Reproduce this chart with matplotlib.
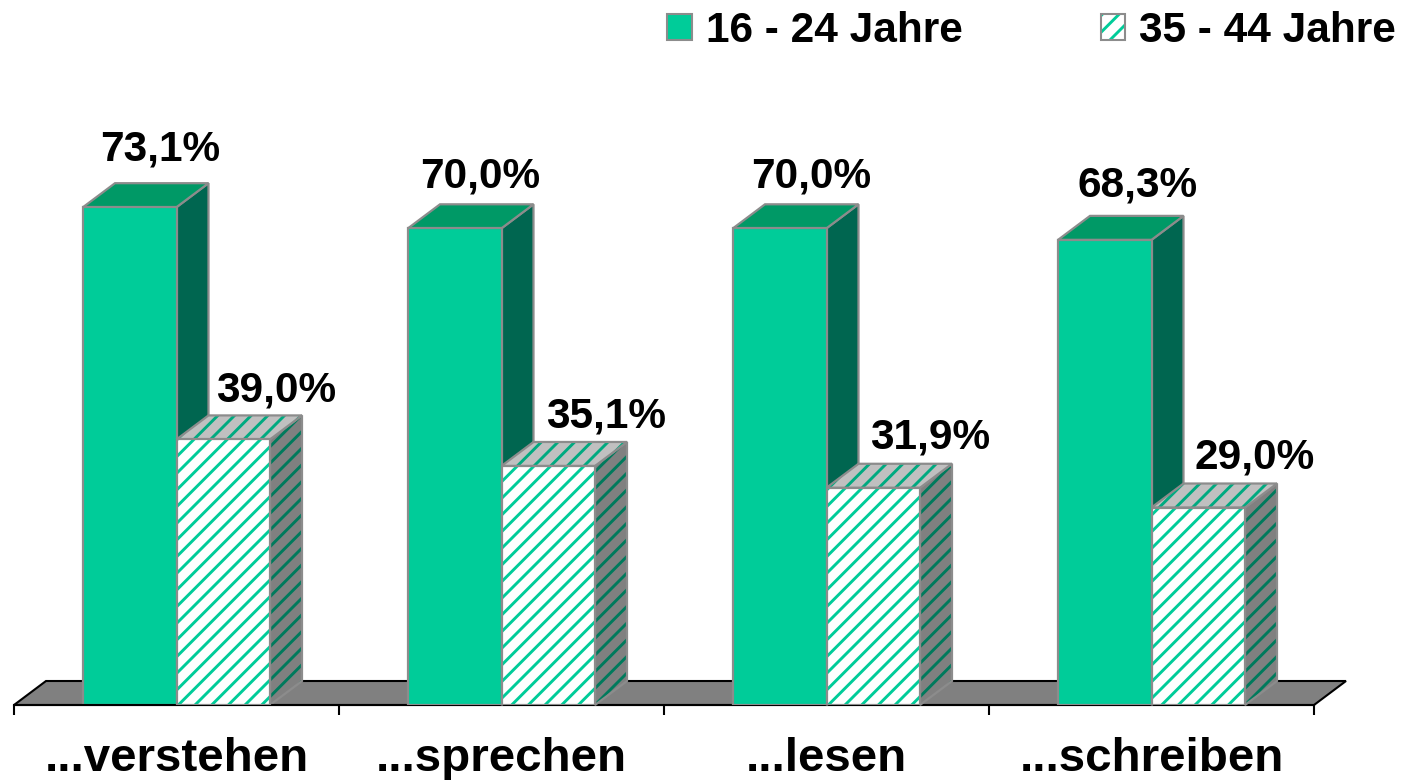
import numpy as np
import matplotlib
matplotlib.use('Agg')
import matplotlib.pyplot as plt
from matplotlib.patches import Patch
from matplotlib.legend_handler import HandlerTuple

categories = ['...verstehen', '...sprechen', '...lesen', '...schreiben']
young = [73.1, 70.0, 70.0, 68.3]
older = [39.0, 35.1, 31.9, 29.0]
young_name = '16 - 24 Jahre'
older_name = '35 - 44 Jahre'

W, H = 1405, 780
plt.rcParams['font.family'] = ['Liberation Sans', 'DejaVu Sans']
plt.rcParams['font.weight'] = 'bold'
plt.rcParams['hatch.linewidth'] = 2.1

GREEN = '#00CC99'
EDGE = '#8C8C8C'

fig = plt.figure(figsize=(W / 100, H / 100), dpi=100)
# axes box in pixels: x 14..1314, baseline at y=705 from the top
ax = fig.add_axes([14 / W, 75 / H, 1300 / W, 680 / H])
ax.set_xlim(0, 4)
ax.set_ylim(0, 680 / 6.81)
ax.patch.set_visible(False)
for s in ['top', 'left', 'right']:
    ax.spines[s].set_visible(False)
ax.spines['bottom'].set_linewidth(1.5)

# 3d depth of the bars, in data units
dx = 32 / 325
dy = 24 / 6.81
bw = 93.5 / 325
# floor
ax.fill([0, dx, 4 + dx, 4], [0, dy, dy, 0], facecolor='#808080', edgecolor='black', lw=1.5, zorder=1, clip_on=False)


def box(x, v, front, top, side, hatch_col=None, z=2):
    # side and top first, then front face
    xs = [x + bw, x + bw + dx, x + bw + dx, x + bw]
    ys = [0, dy, v + dy, v]
    xt = [x, x + dx, x + bw + dx, x + bw]
    yt = [v, v + dy, v + dy, v]
    for px, py, fc, hc in [(xs, ys, side, hatch_col[1] if hatch_col else None),
                           (xt, yt, top, hatch_col[0] if hatch_col else None)]:
        if hc:
            ax.fill(px, py, facecolor=fc, edgecolor=hc, hatch='//', lw=0, zorder=z, clip_on=False)
            ax.fill(px, py, fill=False, edgecolor=EDGE, lw=1.6, zorder=z, clip_on=False)
        else:
            ax.fill(px, py, facecolor=fc, edgecolor=EDGE, lw=1.6, zorder=z, clip_on=False)
    if hatch_col:
        ax.bar(x, v, bw, align='edge', color=front, edgecolor=GREEN, hatch='//', lw=0, zorder=z + 0.1)
        ax.bar(x, v, bw, align='edge', fill=False, edgecolor=EDGE, lw=1.6, zorder=z + 0.2)
    else:
        ax.bar(x, v, bw, align='edge', color=front, edgecolor=EDGE, lw=1.6, zorder=z + 0.1)


off_young = [(30, 58), (25, 52), (31, 52), (33, 54)]
off_older = [(53, 49), (58, 49), (57, 50), (56, 50)]
x0 = np.arange(4) + 69 / 325
for i in range(4):
    box(x0[i], young[i], GREEN, '#009966', '#006650', z=2 + i)
    box(x0[i] + bw, older[i], 'white', '#C0C0C0', '#808080', hatch_col=('#00AA80', '#007A5C'), z=2.5 + i)
    ax.annotate(f'{young[i]:.1f}%'.replace('.', ','), (x0[i] + bw / 2, young[i]), xytext=off_young[i],
                textcoords='offset pixels', ha='center', va='center', fontsize=30.5, zorder=20, annotation_clip=False)
    ax.annotate(f'{older[i]:.1f}%'.replace('.', ','), (x0[i] + 1.5 * bw, older[i]), xytext=off_older[i],
                textcoords='offset pixels', ha='center', va='center', fontsize=30.5, zorder=20, annotation_clip=False)

ax.set_yticks([])
ax.set_xticks(np.arange(5))
ax.set_xticklabels([])
ax.tick_params(axis='x', which='major', length=7, width=1.5)
ax.set_xticks(np.arange(4) + 0.5, minor=True)
ax.set_xticklabels(categories, minor=True, fontsize=34.2)
ax.tick_params(axis='x', which='minor', length=0, pad=23)

h1 = Patch(facecolor=GREEN, edgecolor=EDGE, lw=1.5)
h2 = (Patch(facecolor='white', edgecolor=GREEN, hatch='//', lw=0), Patch(fill=False, edgecolor=EDGE, lw=1.5))
fig.legend([h1, h2], [young_name, older_name], handler_map={tuple: HandlerTuple(ndivide=1, pad=0)},
           loc='upper right', bbox_to_anchor=(1396 / W, 1 - 11 / H), ncol=2, frameon=False, fontsize=30.5,
           handlelength=0.58, handleheight=0.58, handletextpad=0.33, columnspacing=3.25, borderpad=0, borderaxespad=0)

fig.savefig('out.png', dpi=100)
